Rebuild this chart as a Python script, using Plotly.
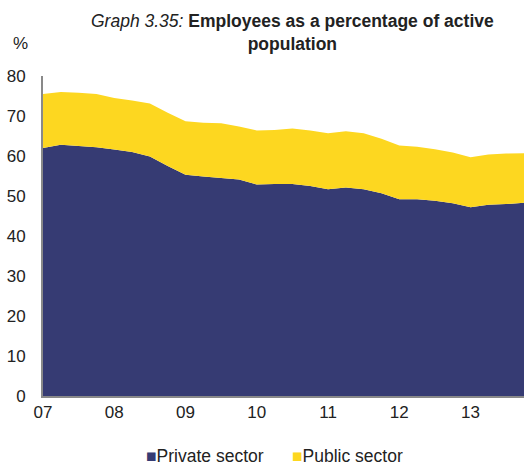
import plotly.graph_objects as go

quarters = list(range(28))  # 2007Q1 .. 2013Q4
tick_positions = [0, 4, 8, 12, 16, 20, 24]
tick_labels = ["07", "08", "09", "10", "11", "12", "13"]

private_sector = [62.0, 62.8, 62.5, 62.2, 61.6, 61.0, 59.9, 57.5, 55.3, 54.9,
                  54.5, 54.1, 52.9, 53.0, 53.0, 52.5, 51.7, 52.1, 51.7, 50.7,
                  49.2, 49.2, 48.8, 48.2, 47.2, 47.8, 48.0, 48.3]
total_employees = [75.5, 76.0, 75.8, 75.5, 74.5, 73.9, 73.1, 70.8, 68.7, 68.3,
                   68.2, 67.4, 66.4, 66.5, 66.9, 66.4, 65.7, 66.2, 65.7, 64.3,
                   62.6, 62.3, 61.7, 60.9, 59.7, 60.4, 60.6, 60.7]
public_sector = [round(t - p, 2) for t, p in zip(total_employees, private_sector)]

NAVY = "#363b73"
YELLOW = "#fdd720"
FONT = "Liberation Sans, Arial, sans-serif"
TXT = "#222222"

fig = go.Figure()
fig.add_trace(go.Scatter(x=quarters, y=private_sector, stackgroup="one", mode="none",
                         fillcolor=NAVY, name="Private sector", showlegend=False,
                         hoverinfo="skip", line=dict(width=0)))
fig.add_trace(go.Scatter(x=quarters, y=public_sector, stackgroup="one", mode="none",
                         fillcolor=YELLOW, name="Public sector", showlegend=False,
                         hoverinfo="skip", line=dict(width=0)))

PY = (396 - 456) / 320  # legend row (paper coords)
LEG_FONT = dict(family=FONT, size=17.5, color=TXT)

fig.update_layout(
    width=524, height=468,
    margin=dict(l=43, r=0, t=76, b=72, autoexpand=False),
    paper_bgcolor="white", plot_bgcolor="white",
    font=dict(family=FONT, size=17, color=TXT),
    showlegend=False,
    xaxis=dict(range=[0, 27], tickvals=tick_positions, ticktext=tick_labels,
               showgrid=False, zeroline=False, showline=True, linecolor="#898989",
               linewidth=2, ticks="", ticklabelstandoff=0, fixedrange=True),
    yaxis=dict(range=[0, 80], tickvals=[0, 10, 20, 30, 40, 50, 60, 70, 80],
               showgrid=False, zeroline=False, showline=True, linecolor="#898989",
               linewidth=2, ticks="", ticklabelstandoff=12, fixedrange=True),
    annotations=[
        dict(text="<i>Graph 3.35:</i> <b>Employees as a percentage of active</b><br><b>population</b>",
             x=(292 - 43) / 481, y=(396 - 32) / 320, xref="paper", yref="paper",
             showarrow=False, xanchor="center", yanchor="middle", align="center",
             font=dict(family=FONT, size=17.5, color=TXT)),
        dict(text="%", x=(20 - 43) / 481, y=(396 - 43) / 320,
             xref="paper", yref="paper", showarrow=False,
             xanchor="center", yanchor="middle",
             font=dict(family=FONT, size=17, color=TXT)),
        dict(text=f"<span style='color:{NAVY}'>■</span>Private sector",
             x=(145 - 43) / 481, y=PY, xref="paper", yref="paper", showarrow=False,
             xanchor="left", yanchor="middle", borderpad=0, font=LEG_FONT),
        dict(text=f"<span style='color:{YELLOW}'>■</span>Public sector",
             x=(291 - 43) / 481, y=PY, xref="paper", yref="paper", showarrow=False,
             xanchor="left", yanchor="middle", borderpad=0, font=LEG_FONT),
    ],
)

fig.write_html("out.html", config={"displayModeBar": False},
               post_script="document.body.style.margin='0';")
